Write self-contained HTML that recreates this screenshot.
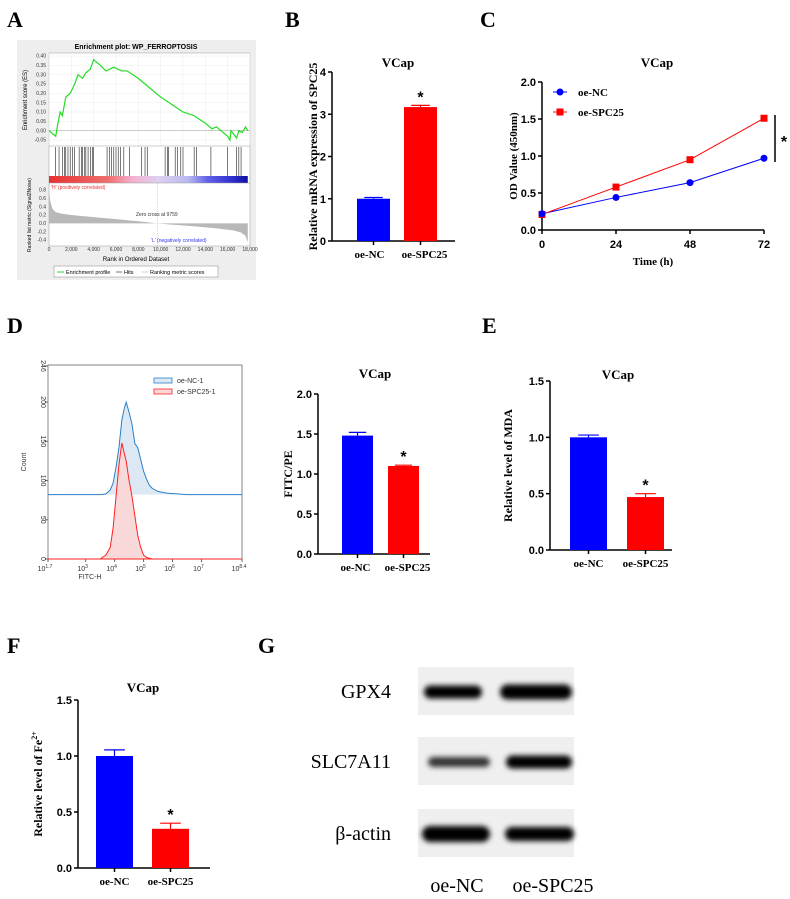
<!DOCTYPE html>
<html><head><meta charset="utf-8"><style>
html,body{margin:0;padding:0;background:#fff;}
svg{display:block;}
.pl{font-family:"Liberation Serif",serif;font-weight:bold;font-size:22px;}
.tt{font-family:"Liberation Serif",serif;font-weight:bold;font-size:13px;}
.tk{font-family:"Liberation Sans",sans-serif;font-weight:bold;font-size:11px;}
.cl{font-family:"Liberation Serif",serif;font-weight:bold;font-size:11px;}
.sm{font-family:"Liberation Sans",sans-serif;font-size:5px;fill:#333;}
.fl{font-family:"Liberation Sans",sans-serif;font-size:7px;fill:#333;}
.wb{font-family:"Liberation Serif",serif;font-size:20px;}
</style></head><body>
<svg id="fig" width="790" height="899" viewBox="0 0 790 899" xmlns="http://www.w3.org/2000/svg">
<defs>
<linearGradient id="cbar" x1="0" x2="1" y1="0" y2="0">
<stop offset="0" stop-color="#e83030"/><stop offset="0.3" stop-color="#f07070"/><stop offset="0.42" stop-color="#f4b0d0"/><stop offset="0.55" stop-color="#e0d0f0"/><stop offset="0.7" stop-color="#b8b8f0"/><stop offset="0.8" stop-color="#6060e8"/><stop offset="0.92" stop-color="#3030d0"/><stop offset="1" stop-color="#1010a0"/>
</linearGradient>
<filter id="blur" x="-20%" y="-100%" width="140%" height="300%"><feGaussianBlur stdDeviation="2.6"/></filter>
</defs>
<g id="layer"></g>
</svg>
<script>
// ---------- DATA ----------
const gseaRank=[0,0.6,0.8,1.0,1.2,1.5,1.9,2.3,2.6,3.0,3.3,3.7,4.0,4.6,5.1,5.8,6.5,7.0,8,9,10,11,12,13,14,14.6,15,16,16.2,16.3,16.8,17,17.3,17.6,17.8];
const gseaES=[0,-0.03,0.04,0.1,0.08,0.18,0.2,0.25,0.3,0.28,0.31,0.33,0.38,0.35,0.32,0.34,0.32,0.32,0.28,0.23,0.18,0.14,0.1,0.08,0.04,0.01,0.02,-0.03,-0.05,0.0,-0.04,0.0,-0.01,0.02,0.0];
const gseaHits=[0.6,0.9,1.2,1.4,1.5,1.7,1.9,2.1,2.3,2.7,2.9,3.0,3.2,3.3,3.5,3.7,3.9,4.0,5.2,5.4,5.6,5.8,6.0,6.2,6.4,6.7,7.2,8.3,8.6,8.8,10.4,10.6,10.7,11.3,11.5,11.8,12.0,13.0,13.2,14.5,16.0,16.8,17.0,17.2];
const metricRank=[0,0.1,0.3,0.6,1,2,4,6,8,9.7,11,13,15,16.5,17.2,17.6,17.8];
const metricVal=[0.8,0.55,0.35,0.27,0.24,0.2,0.15,0.1,0.05,0,-0.03,-0.07,-0.12,-0.17,-0.22,-0.3,-0.45];
const esTicks=[0.40,0.35,0.30,0.25,0.20,0.15,0.10,0.05,0.00,-0.05];
const metTicks=[0.8,0.6,0.4,0.2,0.0,-0.2,-0.4];
const rankTicks=[0,2,4,6,8,10,12,14,16,18];

const bCats=["oe-NC","oe-SPC25"], bVals=[1.0,3.17], bErr=[0.03,0.04];
const cTimes=[0,24,48,72], cNC=[0.22,0.44,0.64,0.97], cSPC=[0.21,0.58,0.95,1.51];
const dCats=["oe-NC","oe-SPC25"], dVals=[1.48,1.10], dErr=[0.04,0.01];
const eCats=["oe-NC","oe-SPC25"], eVals=[1.00,0.47], eErr=[0.02,0.03];
const fCats=["oe-NC","oe-SPC25"], fVals=[1.00,0.35], fErr=[0.055,0.05];

const flowLog=[3.5,3.7,3.85,3.95,4.05,4.15,4.25,4.3,4.35,4.4,4.5,4.6,4.7,4.8,4.9,5.0,5.1,5.2,5.3,5.5,5.8,6.5,8.4];
const flowBlue=[0,1,6,15,35,60,95,104,112,118,105,90,65,60,45,30,20,12,8,4,2,0,0];
const flowRed=[0,5,15,40,80,120,148,140,132,125,100,80,55,30,15,5,2,1,0,0,0,0,0];
const flowBlueOffset=82;
const flowXTicks=[1.7,3,4,5,6,7,8.4];
const flowYTicks=[0,50,100,150,200,246];

// ---------- HELPERS ----------
const NS="http://www.w3.org/2000/svg";
const root=document.getElementById('layer');
function mk(tag,attrs,parent,text){const e=document.createElementNS(NS,tag);for(const k in attrs)e.setAttribute(k,attrs[k]);if(text!==undefined)e.textContent=text;(parent||root).appendChild(e);return e;}
function lin(d0,d1,r0,r1){return v=>r0+(v-d0)*(r1-r0)/(d1-d0);}

// panel labels
[["A",7,27],["B",285,27],["C",480,27],["D",7,333],["E",482,333],["F",7,653],["G",258,653]].forEach(p=>{
 const t=mk('text',{x:p[1],y:p[2],class:'pl'},root,p[0]);
 
 
});

// ---------- PANEL A: GSEA ----------
(function(){
 const g=mk('g',{});
 
 
 mk('rect',{x:17,y:40,width:239,height:240,fill:'#eeeeee'},g);
 mk('text',{x:136,y:49,'text-anchor':'middle',style:'font-family:Liberation Sans,sans-serif;font-weight:bold;font-size:7px'},g,'Enrichment plot: WP_FERROPTOSIS');
 const X=lin(0,18,49,250), Y=lin(0.40,-0.05,56,140);
 mk('rect',{x:49,y:53,width:201,height:193,fill:'#fff',stroke:'#999','stroke-width':0.5},g);
 esTicks.forEach(v=>{mk('line',{x1:49,x2:250,y1:Y(v),y2:Y(v),stroke:'#eee','stroke-width':0.5},g);mk('text',{x:46,y:Y(v)+1.7,'text-anchor':'end',class:'sm'},g,v.toFixed(2));});
 rankTicks.forEach(v=>{mk('line',{x1:X(v),x2:X(v),y1:53,y2:146,stroke:'#eee','stroke-width':0.5},g);const lb=v===0?'0':v+',000';mk('text',{x:X(v),y:251,'text-anchor':'middle',class:'sm'},g,lb);});
 mk('line',{x1:49,x2:250,y1:Y(0),y2:Y(0),stroke:'#999','stroke-width':0.5},g);
 const es=mk('polyline',{points:gseaRank.map((r,i)=>X(r)+','+Y(gseaES[i])).join(' '),fill:'none',stroke:'#22dd22','stroke-width':1.2},g);
 
 
 mk('line',{x1:49,x2:250,y1:146,y2:146,stroke:'#999','stroke-width':0.5},g);
 gseaHits.forEach(h=>{const l=mk('line',{x1:X(h),x2:X(h),y1:147,y2:176,stroke:'#222','stroke-width':0.6},g);});
 const cb=mk('rect',{x:49,y:176,width:X(17.8)-49,height:7,fill:'url(#cbar)'},g);
 
 
 const M=lin(0.8,-0.4,190,240);
 mk('line',{x1:49,x2:250,y1:183,y2:183,stroke:'#999','stroke-width':0.5},g);
 metTicks.forEach(v=>mk('text',{x:46,y:M(v)+1.7,'text-anchor':'end',class:'sm'},g,v.toFixed(1)));
 const pts=[X(0)+','+M(0)].concat(metricRank.map((r,i)=>X(r)+','+M(metricVal[i]))).concat([X(17.8)+','+M(0)]);
 const mp=mk('polygon',{points:pts.join(' '),fill:'#b8b8b8'},g);
 
 
 mk('line',{x1:X(9.7),x2:X(9.7),y1:183,y2:246,stroke:'#aaa','stroke-width':0.5,'stroke-dasharray':'1,1'},g);
 mk('text',{x:51,y:189,class:'sm',style:'fill:#e33'},g,"'H' (positively correlated)");
 mk('text',{x:136,y:216,class:'sm'},g,'Zero cross at 9759');
 mk('text',{x:151,y:242,class:'sm',style:'fill:#33e'},g,"'L' (negatively correlated)");
 mk('text',{x:136,y:261,'text-anchor':'middle',style:'font-family:Liberation Sans,sans-serif;font-size:6px'},g,'Rank in Ordered Dataset');
 mk('text',{x:0,y:0,transform:'translate(27,100) rotate(-90)','text-anchor':'middle',style:'font-family:Liberation Sans,sans-serif;font-size:6px'},g,'Enrichment score (ES)');
 mk('text',{x:0,y:0,transform:'translate(31,215) rotate(-90)','text-anchor':'middle',style:'font-family:Liberation Sans,sans-serif;font-size:5px'},g,'Ranked list metric (Signal2Noise)');
 const lg=mk('g',{},g);
 
 
 mk('rect',{x:54,y:266,width:164,height:11,fill:'#fff',stroke:'#888','stroke-width':0.5},lg);
 mk('line',{x1:57,x2:64,y1:272,y2:272,stroke:'#22dd22','stroke-width':1},lg);
 mk('text',{x:66,y:274,style:'font-family:Liberation Sans,sans-serif;font-size:5.5px'},lg,'Enrichment profile');
 mk('line',{x1:116,x2:122,y1:272,y2:272,stroke:'#333','stroke-width':0.7},lg);
 mk('text',{x:124,y:274,style:'font-family:Liberation Sans,sans-serif;font-size:5.5px'},lg,'Hits');
 mk('line',{x1:142,x2:148,y1:272,y2:272,stroke:'#bbb','stroke-width':0.7},lg);
 mk('text',{x:150,y:274,style:'font-family:Liberation Sans,sans-serif;font-size:5.5px'},lg,'Ranking metric scores');
})();

// ---------- GENERIC BAR CHART ----------
function barChart(o,cats,vals,errs){
 const g=mk('g',{});
 
 
 const Y=lin(0,o.ymax,o.y0,o.ytop);
 mk('line',{x1:o.ax,x2:o.ax,y1:o.y0,y2:o.ytop,stroke:'#000','stroke-width':1.5},g);
 mk('line',{x1:o.ax,x2:o.xend,y1:o.y0,y2:o.y0,stroke:'#000','stroke-width':1.5},g);
 o.ticks.forEach(v=>{mk('line',{x1:o.ax-4,x2:o.ax,y1:Y(v),y2:Y(v),stroke:'#000','stroke-width':1.5},g);mk('text',{x:o.ax-6,y:Y(v)+4,'text-anchor':'end',class:'tk'},g,o.fmt(v));});
 const cols=['#0000ff','#ff0000'];
 cats.forEach((c,i)=>{
  const x=o.bx[i], w=o.bw, cx=x+w/2;
  const r=mk('rect',{x:x,y:Y(vals[i]),width:w,height:o.y0-Y(vals[i]),fill:cols[i]},g);
  
  
  mk('line',{x1:cx,x2:cx,y1:Y(vals[i]),y2:Y(vals[i]+errs[i]),stroke:cols[i],'stroke-width':1.2},g);
  mk('line',{x1:cx-w*0.28,x2:cx+w*0.28,y1:Y(vals[i]+errs[i]),y2:Y(vals[i]+errs[i]),stroke:cols[i],'stroke-width':1.2},g);
  mk('line',{x1:cx,x2:cx,y1:o.y0,y2:o.y0+4,stroke:'#000','stroke-width':1.5},g);
  mk('text',{x:cx+(o.cdx?o.cdx[i]:0),y:o.y0+17,'text-anchor':'middle',class:'cl'},g,c);
  if(i===1&&o.star) mk('text',{x:cx,y:Y(vals[i]+errs[i])-3,'text-anchor':'middle',style:'font-family:Liberation Sans,sans-serif;font-weight:bold;font-size:16px'},g,'*');
 });
 mk('text',{x:o.tx,y:o.ty,'text-anchor':'middle',class:'tt'},g,'VCap');
 const yl=mk('text',{x:0,y:0,transform:'translate('+o.lx+','+((o.y0+o.ytop)/2)+') rotate(-90)','text-anchor':'middle',class:'cl',style:'font-size:12px'},g);
 yl.innerHTML=o.ylab;
 return g;
}
barChart({name:'mrna-expression-chart',ax:332,xend:455,y0:241,ytop:72,ymax:4,ticks:[0,1,2,3,4],fmt:v=>String(v),bx:[357,404],bw:33,tx:398,ty:67,lx:317,ylab:'Relative mRNA expression of SPC25',star:true,cdx:[-4,4]},bCats,bVals,bErr);
barChart({name:'fitc-pe-chart',ax:318,xend:430,y0:554,ytop:394,ymax:2,ticks:[0,0.5,1,1.5,2],fmt:v=>v.toFixed(1),bx:[342,388],bw:31,tx:375,ty:378,lx:292,ylab:'FITC/PE',star:true,cdx:[-2,4]},dCats,dVals,dErr);
barChart({name:'mda-level-chart',ax:550,xend:672,y0:550,ytop:381,ymax:1.5,ticks:[0,0.5,1,1.5],fmt:v=>v.toFixed(1),bx:[570,627],bw:37,tx:618,ty:379,lx:512,ylab:'Relative level of MDA',star:true},eCats,eVals,eErr);
barChart({name:'fe-level-chart',ax:78,xend:210,y0:868,ytop:700,ymax:1.5,ticks:[0,0.5,1,1.5],fmt:v=>v.toFixed(1),bx:[96,152],bw:37,tx:143,ty:692,lx:42,ylab:'Relative level of Fe<tspan dy="-5" font-size="8">2+</tspan>',star:true},fCats,fVals,fErr);

// ---------- PANEL C: line chart ----------
(function(){
 const g=mk('g',{});
 
 
 const X=lin(0,72,542,764), Y=lin(0,2,230,82);
 mk('line',{x1:542,x2:542,y1:230,y2:82,stroke:'#000','stroke-width':1.5},g);
 mk('line',{x1:542,x2:764,y1:230,y2:230,stroke:'#000','stroke-width':1.5},g);
 [0,0.5,1,1.5,2].forEach(v=>{mk('line',{x1:538,x2:542,y1:Y(v),y2:Y(v),stroke:'#000','stroke-width':1.5},g);mk('text',{x:536,y:Y(v)+4,'text-anchor':'end',class:'tk'},g,v.toFixed(1));});
 cTimes.forEach(t=>{mk('line',{x1:X(t),x2:X(t),y1:230,y2:234,stroke:'#000','stroke-width':1.5},g);mk('text',{x:X(t),y:248,'text-anchor':'middle',class:'tk'},g,String(t));});
 const ln1=mk('polyline',{points:cTimes.map((t,i)=>X(t)+','+Y(cNC[i])).join(' '),fill:'none',stroke:'#0000ff','stroke-width':1},g);
 
 
 const ln2=mk('polyline',{points:cTimes.map((t,i)=>X(t)+','+Y(cSPC[i])).join(' '),fill:'none',stroke:'#ff0000','stroke-width':1},g);
 
 
 cTimes.forEach((t,i)=>{
  const p=mk('rect',{x:X(t)-3.5,y:Y(cSPC[i])-3.5,width:7,height:7,fill:'#ff0000'},g);
  
  
  const c=mk('circle',{cx:X(t),cy:Y(cNC[i]),r:3.5,fill:'#0000ff'},g);
  
  
 });
 const lg=mk('g',{},g);
 
 
 mk('line',{x1:553,x2:567,y1:92,y2:92,stroke:'#0000ff'},lg);mk('circle',{cx:560,cy:92,r:3.5,fill:'#0000ff'},lg);
 mk('text',{x:578,y:96,class:'cl'},lg,'oe-NC');
 mk('line',{x1:553,x2:567,y1:112,y2:112,stroke:'#ff0000'},lg);mk('rect',{x:556.5,y:108.5,width:7,height:7,fill:'#ff0000'},lg);
 mk('text',{x:578,y:116,class:'cl'},lg,'oe-SPC25');
 mk('line',{x1:775,x2:775,y1:115,y2:162,stroke:'#000','stroke-width':1.5},g);
 mk('text',{x:784,y:147,'text-anchor':'middle',style:'font-family:Liberation Sans,sans-serif;font-weight:bold;font-size:16px'},g,'*');
 mk('text',{x:657,y:67,'text-anchor':'middle',class:'tt'},g,'VCap');
 mk('text',{x:653,y:265,'text-anchor':'middle',class:'cl'},g,'Time (h)');
 mk('text',{x:0,y:0,transform:'translate(517,156) rotate(-90)','text-anchor':'middle',class:'cl'},g,'OD Value (450nm)');
})();

// ---------- PANEL D: flow histogram ----------
(function(){
 const g=mk('g',{});
 
 
 const X=lin(1.7,8.4,48,242), Y=lin(0,246,559,366);
 mk('rect',{x:48,y:365,width:194,height:194,fill:'none',stroke:'#666','stroke-width':0.8},g);
 flowYTicks.forEach(v=>{mk('line',{x1:45,x2:48,y1:Y(v),y2:Y(v),stroke:'#666'},g);mk('text',{x:0,y:0,transform:'translate(41,'+Y(v)+') rotate(90)','text-anchor':'middle',class:'fl'},g,String(v));});
 flowXTicks.forEach(v=>{mk('line',{x1:X(v),x2:X(v),y1:559,y2:562,stroke:'#666'},g);const t=mk('text',{x:X(v)-3,y:571,'text-anchor':'middle',class:'fl'},g,'10');mk('tspan',{dy:-3,'font-size':5},t,String(v));});
 mk('text',{x:90,y:579,'text-anchor':'middle',class:'fl'},g,'FITC-H');
 mk('text',{x:0,y:0,transform:'translate(26,462) rotate(-90)','text-anchor':'middle',class:'fl'},g,'Count');
 const bpts=flowLog.map((l,i)=>X(l)+','+Y(flowBlue[i]+flowBlueOffset));
 const bf=mk('polygon',{points:[X(1.7)+','+Y(flowBlueOffset)].concat(bpts).concat([X(8.4)+','+Y(flowBlueOffset)]).join(' '),fill:'#dce9f5',stroke:'none'},g);
 mk('polyline',{points:[X(1.7)+','+Y(flowBlueOffset)].concat(bpts).join(' '),fill:'none',stroke:'#2a7fc8','stroke-width':1},g);
 
 
 const rpts=flowLog.map((l,i)=>X(l)+','+Y(flowRed[i]));
 const rf=mk('polygon',{points:[X(1.7)+','+Y(0)].concat(rpts).join(' '),fill:'#f8d8d8',stroke:'#ff2020','stroke-width':1},g);
 
 
 const lg=mk('g',{},g);
 
 
 mk('rect',{x:154,y:378,width:18,height:5,fill:'#dce9f5',stroke:'#2a7fc8','stroke-width':0.8},lg);
 mk('text',{x:177,y:383,class:'fl'},lg,'oe-NC-1');
 mk('rect',{x:154,y:389,width:18,height:5,fill:'#f8d8d8',stroke:'#ff2020','stroke-width':0.8},lg);
 mk('text',{x:177,y:394,class:'fl'},lg,'oe-SPC25-1');
})();

// ---------- PANEL G: western blot ----------
(function(){
 const g=mk('g',{});
 
 
 const rows=[["GPX4",667,[[424,482,13,'#000'],[500,572,15,'#000']]],["SLC7A11",737,[[428,490,10,'#333'],[506,572,13,'#000']]],["β-actin",809,[[422,490,16,'#000'],[505,574,14,'#000']]]];
 rows.forEach(r=>{
  const rg=mk('g',{},g);
  
  
  mk('rect',{x:418,y:r[1],width:156,height:48,fill:'#efefef'},rg);
  r[2].forEach(b=>mk('rect',{x:b[0],y:r[1]+25-b[2]/2,width:b[1]-b[0],height:b[2],rx:b[2]/2,fill:b[3],filter:'url(#blur)'},rg));
  mk('text',{x:391,y:r[1]+31,'text-anchor':'end',class:'wb'},rg,r[0]);
 });
 mk('text',{x:457,y:892,'text-anchor':'middle',class:'wb'},g,'oe-NC');
 mk('text',{x:553,y:892,'text-anchor':'middle',class:'wb'},g,'oe-SPC25');
})();
</script>
</body></html>
